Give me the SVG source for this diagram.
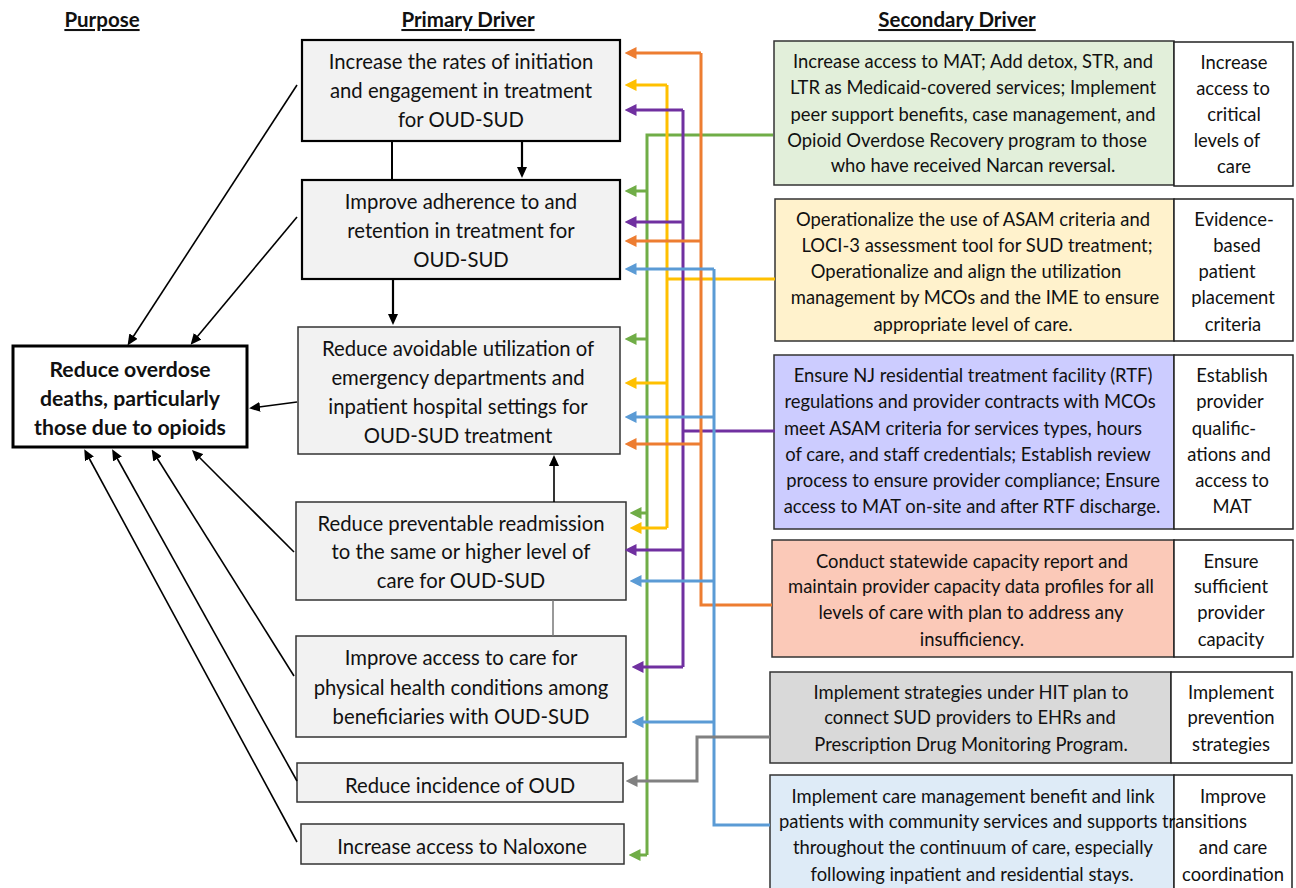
<svg xmlns="http://www.w3.org/2000/svg" width="1296" height="888" viewBox="0 0 1296 888">
<style>
  text { font-family: Lato, "Open Sans", "Liberation Sans", sans-serif; font-size: 18.4px; fill: #111; }
  .c { text-anchor: middle; }
  .pt { font-size: 20.3px; }
  .hdr { font-weight: bold; font-size: 20.5px; text-decoration: underline; text-anchor: middle; }
  .b { font-weight: bold; font-size: 21.2px; }
  .pb { fill: #f2f2f2; stroke: #333; stroke-width: 1.5; }
  .pbk { fill: #f2f2f2; stroke: #000; stroke-width: 2.2; }
  .wb { fill: #fff; stroke: #222; stroke-width: 1.5; }
  .blk { fill: none; stroke: #000; stroke-width: 1.6; }
  .c-or { fill: none; stroke: #ed7d31; stroke-width: 3; }
  .c-ye { fill: none; stroke: #ffc000; stroke-width: 3; }
  .c-pu { fill: none; stroke: #7030a0; stroke-width: 3; }
  .c-gr { fill: none; stroke: #70ad47; stroke-width: 3; }
  .c-bl { fill: none; stroke: #5b9bd5; stroke-width: 3; }
  .c-gy { fill: none; stroke: #808080; stroke-width: 3; }
</style>
<defs>
  <marker id="mk" markerUnits="userSpaceOnUse" markerWidth="11" markerHeight="10" viewBox="0 0 11 10" refX="1" refY="5" orient="auto"><path d="M0,0 L11,5 L0,10 z" fill="#000"/></marker>
  <marker id="m-or" markerUnits="userSpaceOnUse" markerWidth="12" markerHeight="12" viewBox="0 0 12 12" refX="0.5" refY="6" orient="auto"><path d="M0,0 L12,6 L0,12 z" fill="#ed7d31"/></marker>
  <marker id="m-ye" markerUnits="userSpaceOnUse" markerWidth="12" markerHeight="12" viewBox="0 0 12 12" refX="0.5" refY="6" orient="auto"><path d="M0,0 L12,6 L0,12 z" fill="#ffc000"/></marker>
  <marker id="m-pu" markerUnits="userSpaceOnUse" markerWidth="12" markerHeight="12" viewBox="0 0 12 12" refX="0.5" refY="6" orient="auto"><path d="M0,0 L12,6 L0,12 z" fill="#7030a0"/></marker>
  <marker id="m-gr" markerUnits="userSpaceOnUse" markerWidth="12" markerHeight="12" viewBox="0 0 12 12" refX="0.5" refY="6" orient="auto"><path d="M0,0 L12,6 L0,12 z" fill="#70ad47"/></marker>
  <marker id="m-bl" markerUnits="userSpaceOnUse" markerWidth="12" markerHeight="12" viewBox="0 0 12 12" refX="0.5" refY="6" orient="auto"><path d="M0,0 L12,6 L0,12 z" fill="#5b9bd5"/></marker>
  <marker id="m-gy" markerUnits="userSpaceOnUse" markerWidth="12" markerHeight="12" viewBox="0 0 12 12" refX="0.5" refY="6" orient="auto"><path d="M0,0 L12,6 L0,12 z" fill="#808080"/></marker>
</defs>
<rect width="1296" height="888" fill="#fff"/>

<g id="headers">
  <text class="hdr" x="102" y="27">Purpose</text>
  <text class="hdr" x="468" y="27">Primary Driver</text>
  <text class="hdr" x="957" y="27">Secondary Driver</text>
</g>

<g id="purpose">
  <rect x="13" y="346" width="234" height="101" fill="#fff" stroke="#000" stroke-width="3"/>
  <text class="c b" x="130" y="377">Reduce overdose</text>
  <text class="c b" x="130" y="406">deaths, particularly</text>
  <text class="c b" x="130" y="435">those due to opioids</text>
</g>

<g id="p1">
  <rect class="pbk" x="302" y="40" width="318" height="101"/>
  <text class="c pt" x="461" y="69">Increase the rates of initiation</text>
  <text class="c pt" x="461" y="98">and engagement in treatment</text>
  <text class="c pt" x="461" y="127">for OUD-SUD</text>
</g>
<g id="p2">
  <rect class="pbk" x="302" y="180" width="318" height="99"/>
  <text class="c pt" x="461" y="209">Improve adherence to and</text>
  <text class="c pt" x="461" y="238">retention in treatment for</text>
  <text class="c pt" x="461" y="267">OUD-SUD</text>
</g>
<g id="p3">
  <rect class="pb" x="298" y="327" width="322" height="127"/>
  <text class="c pt" x="458" y="356">Reduce avoidable utilization of</text>
  <text class="c pt" x="458" y="385">emergency departments and</text>
  <text class="c pt" x="458" y="414">inpatient hospital settings for</text>
  <text class="c pt" x="458" y="443">OUD-SUD treatment</text>
</g>
<g id="p4">
  <rect class="pb" x="296" y="502" width="330" height="98"/>
  <text class="c pt" x="461" y="531">Reduce preventable readmission</text>
  <text class="c pt" x="461" y="559">to the same or higher level of</text>
  <text class="c pt" x="461" y="588">care for OUD-SUD</text>
</g>
<g id="p5">
  <rect class="pb" x="296" y="636" width="330" height="101"/>
  <text class="c pt" x="461" y="665">Improve access to care for</text>
  <text class="c pt" x="461" y="695">physical health conditions among</text>
  <text class="c pt" x="461" y="724">beneficiaries with OUD-SUD</text>
</g>
<g id="p6">
  <rect class="pb" x="297" y="763" width="326" height="39"/>
  <text class="c pt" x="460" y="793">Reduce incidence of OUD</text>
</g>
<g id="p7">
  <rect class="pb" x="301" y="824" width="323" height="40"/>
  <text class="c pt" x="462" y="854">Increase access to Naloxone</text>
</g>

<g id="s1">
  <rect x="774" y="41" width="400" height="144" fill="#e2efda" stroke="#333" stroke-width="1.5"/>
  <text class="c" x="973" y="68">Increase access to MAT; Add detox, STR, and</text>
  <text class="c" x="973" y="94">LTR as Medicaid-covered services; Implement</text>
  <text class="c" x="973" y="121">peer support benefits, case management, and</text>
  <text class="c" x="967" y="147">Opioid Overdose Recovery program to those</text>
  <text class="c" x="973" y="172">who have received Narcan reversal.</text>
  <rect class="wb" x="1174" y="42" width="119" height="144"/>
  <text class="c" x="1234" y="69">Increase</text>
  <text class="c" x="1233" y="95">access to</text>
  <text class="c" x="1234" y="121">critical</text>
  <text class="c" x="1227" y="147">levels of</text>
  <text class="c" x="1234" y="173">care</text>
</g>
<g id="s2">
  <rect x="775" y="199" width="399" height="142" fill="#fff2cc" stroke="#333" stroke-width="1.5"/>
  <text class="c" x="973" y="226">Operationalize the use of ASAM criteria and</text>
  <text class="c" x="977" y="252">LOCI-3 assessment tool for SUD treatment;</text>
  <text class="c" x="966" y="278">Operationalize and align the utilization</text>
  <text class="c" x="975" y="304">management by MCOs and the IME to ensure</text>
  <text class="c" x="973" y="331">appropriate level of care.</text>
  <rect class="wb" x="1174" y="199" width="119" height="142"/>
  <text class="c" x="1234" y="226">Evidence-</text>
  <text class="c" x="1237" y="252">based</text>
  <text class="c" x="1227" y="278">patient</text>
  <text class="c" x="1233" y="304">placement</text>
  <text class="c" x="1233" y="331">criteria</text>
</g>
<g id="s3">
  <rect x="774" y="355" width="400" height="174" fill="#ccccff" stroke="#333" stroke-width="1.5"/>
  <text class="c" x="973" y="382">Ensure NJ residential treatment facility (RTF)</text>
  <text class="c" x="970" y="408">regulations and provider contracts with MCOs</text>
  <text class="c" x="963" y="435">meet ASAM criteria for services types, hours</text>
  <text class="c" x="968" y="461">of care, and staff credentials; Establish review</text>
  <text class="c" x="973" y="487">process to ensure provider compliance; Ensure</text>
  <text class="c" x="972" y="513">access to MAT on-site and after RTF discharge.</text>
  <rect class="wb" x="1174" y="355" width="119" height="174"/>
  <text class="c" x="1232" y="382">Establish</text>
  <text class="c" x="1230" y="408">provider</text>
  <text class="c" x="1224" y="435">qualific-</text>
  <text class="c" x="1229" y="461">ations and</text>
  <text class="c" x="1232" y="487">access to</text>
  <text class="c" x="1232" y="513">MAT</text>
</g>
<g id="s4">
  <rect x="772" y="540" width="402" height="117" fill="#fbc9b8" stroke="#333" stroke-width="1.5"/>
  <text class="c" x="972" y="568">Conduct statewide capacity report and</text>
  <text class="c" x="971" y="593">maintain provider capacity data profiles for all</text>
  <text class="c" x="971" y="619">levels of care with plan to address any</text>
  <text class="c" x="972" y="646">insufficiency.</text>
  <rect class="wb" x="1174" y="540" width="119" height="117"/>
  <text class="c" x="1231" y="568">Ensure</text>
  <text class="c" x="1231" y="593">sufficient</text>
  <text class="c" x="1231" y="619">provider</text>
  <text class="c" x="1231" y="646">capacity</text>
</g>
<g id="s5">
  <rect x="770" y="672" width="401" height="91" fill="#d9d9d9" stroke="#333" stroke-width="1.5"/>
  <text class="c" x="971" y="699">Implement strategies under HIT plan to</text>
  <text class="c" x="970" y="724">connect SUD providers to EHRs and</text>
  <text class="c" x="971" y="751">Prescription Drug Monitoring Program.</text>
  <rect class="wb" x="1171" y="672" width="121" height="91"/>
  <text class="c" x="1231" y="699">Implement</text>
  <text class="c" x="1231" y="724">prevention</text>
  <text class="c" x="1231" y="751">strategies</text>
</g>
<g id="s6">
  <rect x="770" y="775" width="404" height="120" fill="#deebf7" stroke="#333" stroke-width="1.5"/>
  <rect class="wb" x="1174" y="775" width="118" height="120"/>
  <text class="c" x="973" y="803">Implement care management benefit and link</text>
  <text x="779" y="828">patients with community services and supports</text>
  <text x="1162" y="828">transitions</text>
  <text class="c" x="973" y="854">throughout the continuum of care, especially</text>
  <text class="c" x="972" y="881">following inpatient and residential stays.</text>
  <text class="c" x="1233" y="803">Improve</text>
  <text class="c" x="1233" y="854">and care</text>
  <text class="c" x="1233" y="881">coordination</text>
</g>

<g id="connectors">
  <path class="blk" d="M297,85 L133,337" marker-end="url(#mk)"/>
  <path class="blk" d="M297,217 L197,337" marker-end="url(#mk)"/>
  <path class="blk" d="M297,402 L259,407" marker-end="url(#mk)"/>
  <path class="blk" d="M294,552 L199,457" marker-end="url(#mk)"/>
  <path class="blk" d="M294,676 L157,458" marker-end="url(#mk)"/>
  <path class="blk" d="M297,781 L117,458" marker-end="url(#mk)"/>
  <path class="blk" d="M297,842 L89,458" marker-end="url(#mk)"/>
  <path d="M392,141 V180" fill="none" stroke="#000" stroke-width="2"/>
  <path d="M522,141 V168" fill="none" stroke="#000" stroke-width="2.2" marker-end="url(#mk)"/>
  <path d="M393,279 V315" fill="none" stroke="#000" stroke-width="2.2" marker-end="url(#mk)"/>
  <path class="blk" d="M554,502 V465" marker-end="url(#mk)"/>
  <path d="M553,600 V636" fill="none" stroke="#777" stroke-width="1.5"/>

  <path class="c-gr" d="M773,135 H647 V855"/>
  <path class="c-gr" d="M647,191 H636" marker-end="url(#m-gr)"/>
  <path class="c-gr" d="M647,339 H636" marker-end="url(#m-gr)"/>
  <path class="c-gr" d="M647,513 H641" marker-end="url(#m-gr)"/>
  <path class="c-gr" d="M647,855 H640" marker-end="url(#m-gr)"/>
  <path class="c-ye" d="M775,279 H667"/>
  <path class="c-ye" d="M667,85 V528"/>
  <path class="c-ye" d="M667,85 H636" marker-end="url(#m-ye)"/>
  <path class="c-ye" d="M667,383 H636" marker-end="url(#m-ye)"/>
  <path class="c-ye" d="M667,528 H641" marker-end="url(#m-ye)"/>
  <path class="c-pu" d="M775,431 H683"/>
  <path class="c-pu" d="M683,110 V667"/>
  <path class="c-pu" d="M683,110 H636" marker-end="url(#m-pu)"/>
  <path class="c-pu" d="M683,222 H636" marker-end="url(#m-pu)"/>
  <path class="c-pu" d="M683,550 H636" marker-end="url(#m-pu)"/>
  <path class="c-pu" d="M683,667 H643" marker-end="url(#m-pu)"/>
  <path class="c-or" d="M772,605 H701 V53"/>
  <path class="c-or" d="M701,53 H636" marker-end="url(#m-or)"/>
  <path class="c-or" d="M701,241 H636" marker-end="url(#m-or)"/>
  <path class="c-or" d="M701,444 H636" marker-end="url(#m-or)"/>
  <path class="c-bl" d="M770,825 H714 V269"/>
  <path class="c-bl" d="M714,269 H636" marker-end="url(#m-bl)"/>
  <path class="c-bl" d="M714,417 H636" marker-end="url(#m-bl)"/>
  <path class="c-bl" d="M714,581 H641" marker-end="url(#m-bl)"/>
  <path class="c-bl" d="M714,722 H643" marker-end="url(#m-bl)"/>
  <path class="c-gy" d="M770,737 H697 V781 H637" marker-end="url(#m-gy)"/>
</g>
</svg>
